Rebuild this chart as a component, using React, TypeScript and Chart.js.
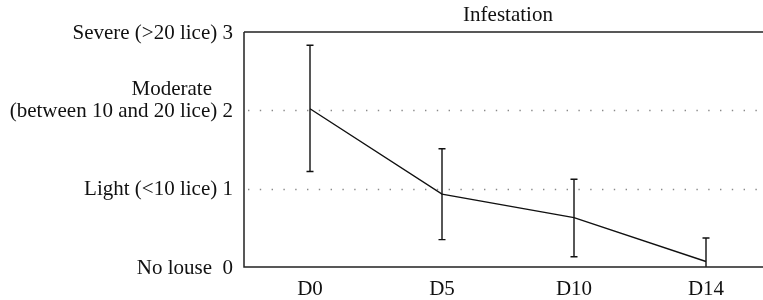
import React, { useEffect, useRef } from "react";
import { Chart, registerables } from "chart.js";

Chart.register(...registerables);

const categories = ["D0", "D5", "D10", "D14"];
const means = [2.02, 0.93, 0.63, 0.07];
const upperErr = [2.83, 1.51, 1.12, 0.37];
const lowerErr = [1.22, 0.35, 0.13, -0.23];

const yTickValues = [0, 1, 2, 3];
const yTickLabels = [
  ["No louse  0"],
  ["Light (<10 lice) 1"],
  ["Moderate", "(between 10 and 20 lice) 2"],
  ["Severe (>20 lice) 3"],
];
const gridValues = [1, 2];
const titleText = "Infestation";

const FONT = "'Liberation Serif', 'Times New Roman', serif";

const customPlugin = {
  id: "custom",
  beforeDatasetsDraw(chart: any) {
    const { ctx, chartArea, scales } = chart;
    const y = scales.y;
    ctx.save();
    ctx.strokeStyle = "#8a8a8a";
    ctx.lineWidth = 1.4;
    ctx.setLineDash([1.4, 10.4]);
    gridValues.forEach((v) => {
      const py = Math.round(y.getPixelForValue(v)) + 0.5;
      ctx.beginPath();
      ctx.moveTo(chartArea.left + 4, py);
      ctx.lineTo(chartArea.right, py);
      ctx.stroke();
    });
    ctx.restore();
  },
  afterDatasetsDraw(chart: any) {
    const { ctx, chartArea, scales } = chart;
    const x = scales.x;
    const y = scales.y;
    ctx.save();
    ctx.beginPath();
    ctx.rect(chartArea.left, chartArea.top - 2, chartArea.right - chartArea.left, chartArea.bottom - chartArea.top + 2);
    ctx.clip();
    ctx.strokeStyle = "#111";
    ctx.lineWidth = 1.4;
    for (let i = 0; i < categories.length; i++) {
      const px = x.getPixelForValue(i);
      const yh = y.getPixelForValue(upperErr[i]);
      const yl = y.getPixelForValue(lowerErr[i]);
      ctx.beginPath();
      ctx.moveTo(px, yh);
      ctx.lineTo(px, yl);
      ctx.moveTo(px - 3.5, yh);
      ctx.lineTo(px + 3.5, yh);
      ctx.moveTo(px - 3.5, yl);
      ctx.lineTo(px + 3.5, yl);
      ctx.stroke();
    }
    ctx.restore();

    ctx.save();
    ctx.strokeStyle = "#222";
    ctx.lineWidth = 1.5;
    ctx.beginPath();
    ctx.moveTo(chartArea.left, chartArea.top);
    ctx.lineTo(chartArea.right, chartArea.top);
    ctx.moveTo(chartArea.left, chartArea.top);
    ctx.lineTo(chartArea.left, chartArea.bottom);
    ctx.lineTo(chartArea.right, chartArea.bottom);
    ctx.stroke();
    ctx.restore();

    ctx.save();
    ctx.fillStyle = "#111";
    ctx.font = `21px ${FONT}`;
    ctx.textBaseline = "middle";
    ctx.textAlign = "center";
    ctx.fillText(titleText, (chartArea.left + chartArea.right) / 2, 15);
    ctx.textAlign = "right";
    const rx = chartArea.left - 11;
    yTickValues.forEach((v, i) => {
      const lines = yTickLabels[i];
      const py = y.getPixelForValue(v) + 1;
      const n = lines.length;
      lines.forEach((line, j) => {
        const off = (n - 1 - j) * 22;
        const indent = j < n - 1 ? 21 : 0;
        ctx.fillText(line, rx - indent, py - off);
      });
    });
    ctx.restore();
  },
};

export default function App() {
  const ref = useRef<HTMLCanvasElement | null>(null);
  useEffect(() => {
    if (!ref.current) return;
    const chart = new Chart(ref.current, {
      type: "line",
      data: {
        labels: categories,
        datasets: [
          {
            data: means,
            borderColor: "#111",
            borderWidth: 1.4,
            pointRadius: 0,
            tension: 0,
            fill: false,
          },
        ],
      },
      options: {
        responsive: false,
        animation: false,
        layout: { padding: { top: 32, left: 0, right: 0, bottom: 0 } },
        plugins: {
          legend: { display: false },
          tooltip: { enabled: false },
          title: { display: false },
        },
        scales: {
          x: {
            type: "category",
            offset: true,
            grid: { display: false, drawTicks: false },
            border: { display: false },
            ticks: {
              color: "#111",
              font: { family: FONT, size: 21 },
              padding: 10,
              maxRotation: 0,
            },
            afterFit: (s: any) => {
              s.height = 33;
            },
          },
          y: {
            min: 0,
            max: 3,
            grid: { display: false, drawTicks: false },
            border: { display: false },
            ticks: { display: false },
            afterFit: (s: any) => {
              s.width = 244;
            },
          },
        },
      },
      plugins: [customPlugin],
    } as any);
    return () => chart.destroy();
  }, []);
  return (
    <div
      style={{
        position: "absolute",
        left: 0,
        top: 0,
        width: 763,
        height: 300,
        overflow: "hidden",
        background: "#fff",
      }}
    >
      <canvas ref={ref} width={772} height={300} style={{ display: "block" }} />
    </div>
  );
}
